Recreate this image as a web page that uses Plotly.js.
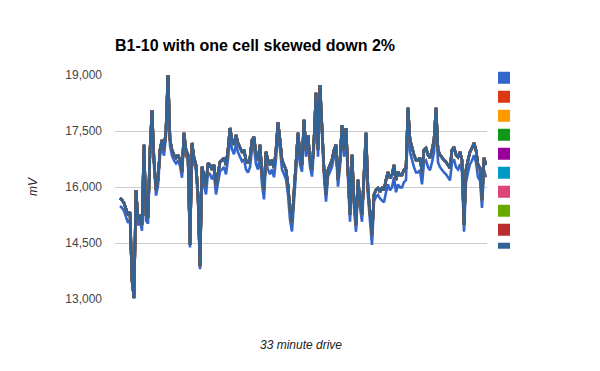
<!DOCTYPE html>
<html>
<head>
<meta charset="utf-8">
<script src="https://cdn.plot.ly/plotly-3.0.1.min.js"></script>
<style>
html,body{margin:0;padding:0;background:#fff;}
#chart{width:600px;height:371px;}
</style>
</head>
<body>
<div id="chart"></div>
<script>
// Series names (legend shows no text in the reference)
const seriesNames = ['B1','B2','B3','B4','B5','B6','B7','B8','B9','B10'];
const seriesColors = ['#3366cc','#dc3912','#ff9900','#109618','#990099','#0099c6','#dd4477','#66aa00','#b82e2e','#316395'];

// Cell B1 (skewed down ~2%), mV
const cell1 = [
15490,15440,15360,15170,15040,15120,13460,13010,15770,14970,
15100,14830,16980,15100,15020,16840,17910,16570,15770,16040,
16840,17110,16840,17380,18900,17110,16840,16710,16630,16710,
16570,16250,17300,16840,16710,14380,17030,16630,16440,15640,
13800,16290,16070,15800,16390,16340,16210,16340,15800,16070,
16420,16470,16530,16340,16740,17330,17010,16880,17140,16930,
16790,16690,16740,16470,16390,16530,17010,17090,16610,16470,
16880,16070,15670,16690,16470,16340,16470,16260,16740,17490,
17010,16470,16340,16210,15800,15130,14810,15670,16470,17200,
16610,16410,17620,16810,17210,16540,16280,17080,18340,16810,
18550,17290,16280,15610,16280,16410,16540,16810,16950,16010,
16540,17480,16810,17400,16280,15070,16680,15470,14800,16010,
15470,15070,16140,17270,15740,15070,14450,15610,15740,15790,
15690,15640,15590,15860,16070,15910,15990,16260,15860,16070,
15990,15990,16130,16180,17790,16930,16710,16530,16390,16390,
16450,16070,16660,16710,16530,16450,16660,16930,17790,16660,
16530,16450,16390,16340,16260,16180,16660,16740,16530,16470,
16610,16390,14800,16130,16390,16610,16710,16850,16660,16260,
16180,15440,16450,16260
];

// Cells B2-B10 (drawn almost on top of each other), mV
const cellsOther = [
15700,15650,15570,15380,15250,15330,13510,13030,15920,15120,
15250,14980,17130,15250,15170,16990,18060,16720,15920,16190,
16990,17260,16990,17530,19050,17260,16990,16860,16780,16860,
16720,16400,17450,16990,16860,14450,17180,16780,16590,15790,
13880,16540,16320,16050,16640,16590,16460,16590,16050,16320,
16670,16720,16780,16590,16990,17580,17260,17130,17390,17180,
17040,16940,16990,16720,16640,16780,17260,17340,16860,16720,
17130,16320,15920,16940,16720,16590,16720,16510,16990,17740,
17260,16720,16590,16460,16050,15380,15060,15920,16720,17450,
16860,16590,17800,16990,17390,16720,16460,17260,18520,16990,
18730,17470,16460,15790,16460,16590,16720,16990,17130,16190,
16720,17660,16990,17580,16460,15250,16860,15650,14980,16190,
15650,15250,16320,17450,15920,15250,14710,15790,15920,15970,
15870,15970,15920,16190,16400,16240,16320,16590,16190,16400,
16320,16320,16460,16510,18120,17260,17040,16860,16720,16720,
16780,16400,16990,17040,16860,16780,16990,17260,18120,16990,
16860,16780,16720,16670,16590,16510,16990,17070,16860,16800,
16940,16720,14980,16460,16720,16940,17040,17180,16990,16590,
16510,15650,16780,16590
];

const yTicks = [13000, 14500, 16000, 17500, 19000];

const xIdx = cell1.map((_, i) => i);
const traces = [];
seriesNames.forEach((nm, k) => {
  traces.push({
    type: 'scatter', mode: 'lines', x: xIdx,
    y: k === 0 ? cell1 : cellsOther,
    name: nm, showlegend: false,
    line: {color: seriesColors[k], width: 2.6},
    hoverinfo: 'skip'
  });
});
// legend swatches (square, no text)
seriesNames.forEach((nm, k) => {
  traces.push({
    type: 'bar', x: [null], y: [null], name: ' ',
    marker: {color: seriesColors[k]}, showlegend: true
  });
});

const layout = {
  width: 600, height: 371,
  margin: {l: 115, r: 113, t: 75, b: 72, pad: 0},
  paper_bgcolor: '#fff', plot_bgcolor: '#fff',
  font: {family: 'Liberation Sans, Arial, sans-serif', size: 12, color: '#444'},
  title: {
    text: '<b>B1-10 with one cell skewed down 2%</b>',
    font: {family: 'Liberation Sans, Arial, sans-serif', size: 16, color: '#000'},
    xref: 'container', yref: 'container', x: 115/600, xanchor: 'left',
    y: 1 - 45/371, yanchor: 'middle'
  },
  showlegend: true,
  legend: {
    x: 0.992, xanchor: 'left', y: 1.052, yanchor: 'top',
    font: {size: 12}, tracegroupgap: 0, itemwidth: 30,
    bgcolor: 'rgba(0,0,0,0)'
  },
  xaxis: {
    range: [-2.5, 183.5], showgrid: false, zeroline: false,
    showticklabels: false, showline: false, ticks: '', fixedrange: true
  },
  yaxis: {
    range: [13000, 19000], tickvals: yTicks, tickformat: ',d',
    showgrid: true, gridcolor: '#cccccc', gridwidth: 1,
    zeroline: false, showline: false, ticks: '', ticklabelstandoff: 12,
    tickfont: {size: 12, color: '#444'}
  },
  annotations: [
    {text: '<i>mV</i>', xref: 'paper', yref: 'paper', x: (33-115)/372, y: 0.5,
     xanchor: 'center', yanchor: 'middle', textangle: -90, showarrow: false,
     font: {size: 12, color: '#222'}},
    {text: '<i>33 minute drive</i>', xref: 'paper', yref: 'paper', x: 0.5, y: -(345-299)/224,
     xanchor: 'center', yanchor: 'middle', showarrow: false,
     font: {size: 12, color: '#222'}}
  ]
};

Plotly.newPlot('chart', traces, layout, {displayModeBar: false, staticPlot: true});
</script>
</body>
</html>
